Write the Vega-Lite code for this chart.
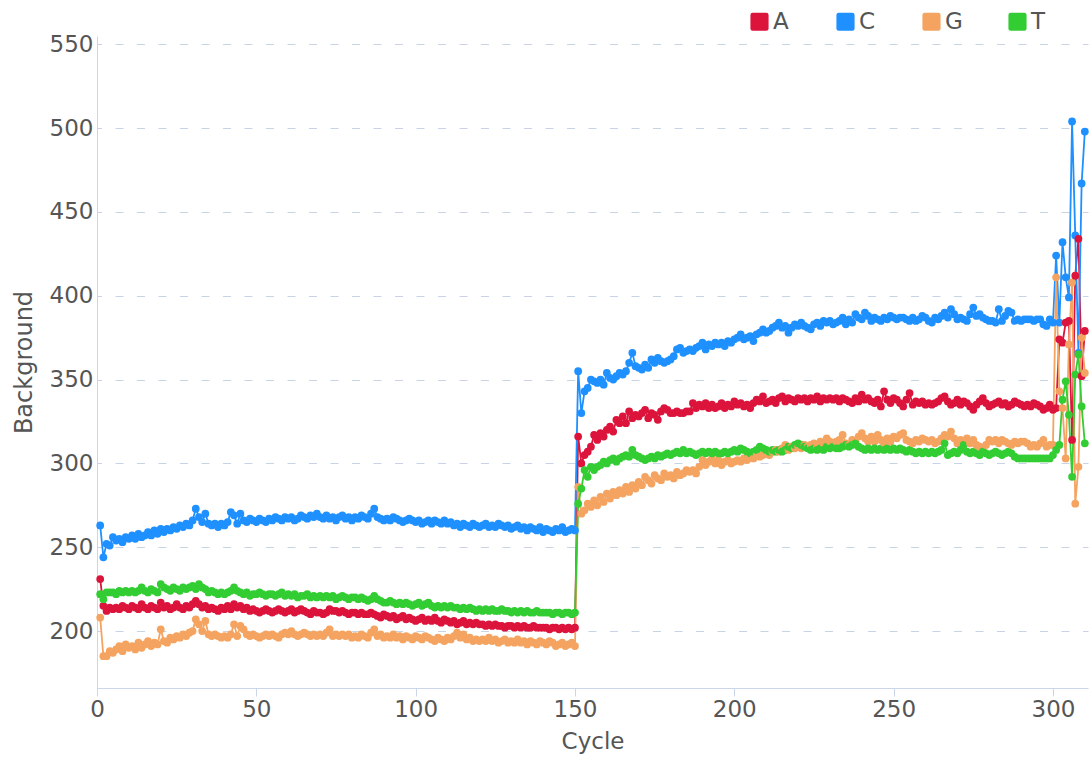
{
"$schema": "https://vega.github.io/schema/vega-lite/v6.json",
"width": 991, "height": 652,
"autosize": {"type": "none"},
"padding": {"left": 97, "top": 36, "right": 2, "bottom": 72},
"background": "white",
"config": {"view": {"stroke": null}, "font": "DejaVu Sans"},
"data": {"values": [
{"c":1,"A":231,"C":263,"G":208,"T":222},{"c":2,"A":215,"C":244,"G":185,"T":219},{"c":3,"A":212,"C":252,"G":185,"T":223},{"c":4,"A":214,"C":251,"G":188,"T":223},{"c":5,"A":213,"C":256,"G":187,"T":223},
{"c":6,"A":214,"C":254,"G":189,"T":222},{"c":7,"A":213,"C":255,"G":191,"T":224},{"c":8,"A":215,"C":253,"G":188,"T":223},{"c":9,"A":214,"C":256,"G":192,"T":224},{"c":10,"A":213,"C":255,"G":190,"T":223},
{"c":11,"A":215,"C":257,"G":191,"T":224},{"c":12,"A":214,"C":255,"G":189,"T":223},{"c":13,"A":213,"C":258,"G":193,"T":224},{"c":14,"A":216,"C":256,"G":190,"T":226},{"c":15,"A":214,"C":257,"G":192,"T":224},
{"c":16,"A":213,"C":259,"G":194,"T":223},{"c":17,"A":215,"C":257,"G":191,"T":225},{"c":18,"A":214,"C":260,"G":193,"T":224},{"c":19,"A":213,"C":258,"G":192,"T":223},{"c":20,"A":217,"C":261,"G":201,"T":228},
{"c":21,"A":214,"C":259,"G":194,"T":226},{"c":22,"A":215,"C":261,"G":193,"T":225},{"c":23,"A":213,"C":260,"G":196,"T":224},{"c":24,"A":214,"C":262,"G":195,"T":226},{"c":25,"A":216,"C":261,"G":197,"T":225},
{"c":26,"A":214,"C":263,"G":196,"T":224},{"c":27,"A":213,"C":262,"G":198,"T":226},{"c":28,"A":215,"C":264,"G":197,"T":225},{"c":29,"A":214,"C":263,"G":199,"T":226},{"c":30,"A":216,"C":266,"G":200,"T":227},
{"c":31,"A":218,"C":273,"G":207,"T":225},{"c":32,"A":216,"C":268,"G":204,"T":228},{"c":33,"A":214,"C":265,"G":200,"T":226},{"c":34,"A":215,"C":270,"G":206,"T":225},{"c":35,"A":213,"C":264,"G":198,"T":223},
{"c":36,"A":214,"C":263,"G":197,"T":224},{"c":37,"A":213,"C":264,"G":198,"T":223},{"c":38,"A":212,"C":262,"G":197,"T":222},{"c":39,"A":214,"C":264,"G":196,"T":223},{"c":40,"A":213,"C":263,"G":197,"T":222},
{"c":41,"A":215,"C":265,"G":196,"T":223},{"c":42,"A":213,"C":271,"G":198,"T":224},{"c":43,"A":216,"C":269,"G":204,"T":226},{"c":44,"A":214,"C":264,"G":197,"T":224},{"c":45,"A":215,"C":270,"G":203,"T":223},
{"c":46,"A":213,"C":266,"G":201,"T":222},{"c":47,"A":214,"C":265,"G":198,"T":223},{"c":48,"A":212,"C":267,"G":197,"T":221},{"c":49,"A":213,"C":266,"G":198,"T":222},{"c":50,"A":212,"C":265,"G":197,"T":222},
{"c":51,"A":211,"C":267,"G":196,"T":223},{"c":52,"A":212,"C":266,"G":197,"T":222},{"c":53,"A":213,"C":265,"G":198,"T":221},{"c":54,"A":212,"C":267,"G":197,"T":222},{"c":55,"A":211,"C":266,"G":198,"T":222},
{"c":56,"A":212,"C":268,"G":197,"T":221},{"c":57,"A":213,"C":267,"G":196,"T":222},{"c":58,"A":212,"C":266,"G":198,"T":223},{"c":59,"A":211,"C":268,"G":199,"T":221},{"c":60,"A":212,"C":267,"G":198,"T":222},
{"c":61,"A":213,"C":268,"G":200,"T":221},{"c":62,"A":211,"C":266,"G":198,"T":222},{"c":63,"A":212,"C":267,"G":197,"T":220},{"c":64,"A":213,"C":269,"G":198,"T":221},{"c":65,"A":212,"C":268,"G":199,"T":221},
{"c":66,"A":211,"C":267,"G":198,"T":222},{"c":67,"A":210,"C":269,"G":197,"T":220},{"c":68,"A":212,"C":268,"G":198,"T":221},{"c":69,"A":211,"C":270,"G":197,"T":220},{"c":70,"A":211,"C":268,"G":198,"T":221},
{"c":71,"A":210,"C":267,"G":197,"T":220},{"c":72,"A":211,"C":269,"G":199,"T":221},{"c":73,"A":213,"C":267,"G":201,"T":220},{"c":74,"A":212,"C":268,"G":197,"T":221},{"c":75,"A":212,"C":266,"G":198,"T":219},
{"c":76,"A":211,"C":268,"G":197,"T":220},{"c":77,"A":212,"C":269,"G":198,"T":221},{"c":78,"A":211,"C":267,"G":197,"T":220},{"c":79,"A":210,"C":268,"G":198,"T":219},{"c":80,"A":211,"C":266,"G":196,"T":220},
{"c":81,"A":211,"C":268,"G":197,"T":220},{"c":82,"A":210,"C":267,"G":196,"T":219},{"c":83,"A":211,"C":269,"G":198,"T":220},{"c":84,"A":210,"C":268,"G":197,"T":219},{"c":85,"A":210,"C":267,"G":196,"T":218},
{"c":86,"A":211,"C":270,"G":199,"T":219},{"c":87,"A":210,"C":273,"G":201,"T":221},{"c":88,"A":209,"C":268,"G":197,"T":219},{"c":89,"A":208,"C":267,"G":198,"T":218},{"c":90,"A":210,"C":266,"G":196,"T":217},
{"c":91,"A":209,"C":267,"G":197,"T":217},{"c":92,"A":208,"C":266,"G":196,"T":218},{"c":93,"A":209,"C":268,"G":198,"T":217},{"c":94,"A":207,"C":267,"G":196,"T":216},{"c":95,"A":208,"C":266,"G":197,"T":217},
{"c":96,"A":209,"C":265,"G":195,"T":216},{"c":97,"A":207,"C":266,"G":197,"T":217},{"c":98,"A":208,"C":267,"G":196,"T":216},{"c":99,"A":207,"C":266,"G":195,"T":215},{"c":100,"A":206,"C":265,"G":197,"T":216},
{"c":101,"A":207,"C":266,"G":196,"T":217},{"c":102,"A":208,"C":264,"G":195,"T":215},{"c":103,"A":206,"C":265,"G":197,"T":216},{"c":104,"A":207,"C":266,"G":196,"T":217},{"c":105,"A":206,"C":264,"G":195,"T":215},
{"c":106,"A":208,"C":266,"G":194,"T":214},{"c":107,"A":206,"C":265,"G":196,"T":215},{"c":108,"A":205,"C":264,"G":195,"T":214},{"c":109,"A":207,"C":266,"G":194,"T":215},{"c":110,"A":206,"C":264,"G":196,"T":214},
{"c":111,"A":205,"C":265,"G":195,"T":215},{"c":112,"A":206,"C":263,"G":197,"T":214},{"c":113,"A":204,"C":264,"G":199,"T":214},{"c":114,"A":205,"C":262,"G":196,"T":213},{"c":115,"A":206,"C":264,"G":198,"T":214},
{"c":116,"A":204,"C":263,"G":195,"T":213},{"c":117,"A":205,"C":262,"G":196,"T":214},{"c":118,"A":204,"C":264,"G":194,"T":213},{"c":119,"A":205,"C":263,"G":195,"T":212},{"c":120,"A":204,"C":262,"G":194,"T":213},
{"c":121,"A":204,"C":263,"G":195,"T":212},{"c":122,"A":203,"C":264,"G":194,"T":213},{"c":123,"A":204,"C":262,"G":196,"T":212},{"c":124,"A":203,"C":263,"G":194,"T":213},{"c":125,"A":204,"C":262,"G":195,"T":212},
{"c":126,"A":203,"C":264,"G":193,"T":212},{"c":127,"A":203,"C":263,"G":194,"T":213},{"c":128,"A":202,"C":262,"G":195,"T":212},{"c":129,"A":203,"C":263,"G":193,"T":212},{"c":130,"A":203,"C":261,"G":194,"T":211},
{"c":131,"A":202,"C":262,"G":193,"T":212},{"c":132,"A":203,"C":263,"G":195,"T":211},{"c":133,"A":202,"C":261,"G":193,"T":212},{"c":134,"A":203,"C":262,"G":194,"T":211},{"c":135,"A":202,"C":260,"G":192,"T":212},
{"c":136,"A":202,"C":262,"G":194,"T":211},{"c":137,"A":203,"C":261,"G":193,"T":211},{"c":138,"A":202,"C":260,"G":192,"T":212},{"c":139,"A":202,"C":262,"G":194,"T":211},{"c":140,"A":202,"C":259,"G":193,"T":211},
{"c":141,"A":202,"C":261,"G":192,"T":211},{"c":142,"A":201,"C":260,"G":194,"T":211},{"c":143,"A":202,"C":259,"G":193,"T":210},{"c":144,"A":202,"C":261,"G":191,"T":211},{"c":145,"A":201,"C":260,"G":192,"T":211},
{"c":146,"A":202,"C":262,"G":193,"T":210},{"c":147,"A":201,"C":259,"G":191,"T":211},{"c":148,"A":202,"C":260,"G":192,"T":211},{"c":149,"A":201,"C":261,"G":193,"T":210},{"c":150,"A":202,"C":260,"G":191,"T":211},
{"c":151,"A":316,"C":355,"G":286,"T":276},{"c":152,"A":300,"C":330,"G":270,"T":285},{"c":153,"A":305,"C":343,"G":272,"T":296},{"c":154,"A":307,"C":345,"G":276,"T":292},{"c":155,"A":310,"C":350,"G":274,"T":298},
{"c":156,"A":317,"C":349,"G":278,"T":296},{"c":157,"A":314,"C":348,"G":275,"T":298},{"c":158,"A":318,"C":350,"G":280,"T":299},{"c":159,"A":316,"C":347,"G":277,"T":301},{"c":160,"A":320,"C":354,"G":282,"T":300},
{"c":161,"A":322,"C":351,"G":279,"T":302},{"c":162,"A":319,"C":350,"G":283,"T":303},{"c":163,"A":326,"C":352,"G":281,"T":301},{"c":164,"A":324,"C":354,"G":284,"T":303},{"c":165,"A":328,"C":353,"G":282,"T":304},
{"c":166,"A":324,"C":355,"G":286,"T":305},{"c":167,"A":331,"C":360,"G":283,"T":304},{"c":168,"A":327,"C":366,"G":287,"T":308},{"c":169,"A":329,"C":358,"G":285,"T":305},{"c":170,"A":328,"C":357,"G":289,"T":304},
{"c":171,"A":330,"C":356,"G":287,"T":303},{"c":172,"A":332,"C":359,"G":292,"T":302},{"c":173,"A":327,"C":357,"G":290,"T":303},{"c":174,"A":330,"C":362,"G":288,"T":304},{"c":175,"A":329,"C":360,"G":293,"T":303},
{"c":176,"A":326,"C":363,"G":291,"T":305},{"c":177,"A":331,"C":361,"G":290,"T":304},{"c":178,"A":333,"C":360,"G":294,"T":305},{"c":179,"A":332,"C":361,"G":292,"T":306},{"c":180,"A":330,"C":362,"G":293,"T":305},
{"c":181,"A":330,"C":364,"G":291,"T":306},{"c":182,"A":331,"C":368,"G":295,"T":307},{"c":183,"A":330,"C":369,"G":293,"T":306},{"c":184,"A":330,"C":366,"G":294,"T":308},{"c":185,"A":331,"C":367,"G":296,"T":306},
{"c":186,"A":331,"C":368,"G":295,"T":307},{"c":187,"A":336,"C":367,"G":296,"T":306},{"c":188,"A":333,"C":369,"G":294,"T":305},{"c":189,"A":335,"C":370,"G":298,"T":306},{"c":190,"A":334,"C":372,"G":302,"T":307},
{"c":191,"A":336,"C":368,"G":299,"T":306},{"c":192,"A":333,"C":371,"G":301,"T":307},{"c":193,"A":335,"C":370,"G":303,"T":306},{"c":194,"A":333,"C":372,"G":300,"T":307},{"c":195,"A":334,"C":371,"G":302,"T":306},
{"c":196,"A":336,"C":372,"G":299,"T":306},{"c":197,"A":333,"C":370,"G":301,"T":307},{"c":198,"A":335,"C":373,"G":302,"T":306},{"c":199,"A":334,"C":372,"G":300,"T":307},{"c":200,"A":337,"C":374,"G":301,"T":308},
{"c":201,"A":335,"C":375,"G":302,"T":307},{"c":202,"A":336,"C":377,"G":301,"T":309},{"c":203,"A":334,"C":374,"G":303,"T":308},{"c":204,"A":335,"C":375,"G":302,"T":307},{"c":205,"A":333,"C":376,"G":304,"T":306},
{"c":206,"A":336,"C":373,"G":303,"T":307},{"c":207,"A":338,"C":377,"G":305,"T":308},{"c":208,"A":337,"C":378,"G":304,"T":310},{"c":209,"A":340,"C":380,"G":305,"T":309},{"c":210,"A":336,"C":378,"G":306,"T":308},
{"c":211,"A":337,"C":379,"G":305,"T":307},{"c":212,"A":338,"C":381,"G":307,"T":308},{"c":213,"A":336,"C":382,"G":308,"T":307},{"c":214,"A":339,"C":384,"G":307,"T":308},{"c":215,"A":340,"C":381,"G":309,"T":307},
{"c":216,"A":337,"C":382,"G":311,"T":308},{"c":217,"A":339,"C":378,"G":308,"T":310},{"c":218,"A":338,"C":381,"G":310,"T":309},{"c":219,"A":337,"C":383,"G":309,"T":311},{"c":220,"A":339,"C":382,"G":310,"T":312},
{"c":221,"A":338,"C":384,"G":309,"T":311},{"c":222,"A":339,"C":382,"G":311,"T":310},{"c":223,"A":337,"C":381,"G":310,"T":309},{"c":224,"A":339,"C":380,"G":311,"T":308},{"c":225,"A":338,"C":383,"G":312,"T":309},
{"c":226,"A":340,"C":384,"G":310,"T":308},{"c":227,"A":337,"C":382,"G":313,"T":309},{"c":228,"A":339,"C":385,"G":312,"T":308},{"c":229,"A":338,"C":384,"G":315,"T":310},{"c":230,"A":339,"C":385,"G":313,"T":309},
{"c":231,"A":338,"C":383,"G":312,"T":310},{"c":232,"A":339,"C":384,"G":313,"T":309},{"c":233,"A":337,"C":385,"G":314,"T":309},{"c":234,"A":339,"C":387,"G":317,"T":310},{"c":235,"A":338,"C":383,"G":312,"T":311},
{"c":236,"A":337,"C":386,"G":311,"T":310},{"c":237,"A":336,"C":384,"G":314,"T":311},{"c":238,"A":339,"C":389,"G":313,"T":312},{"c":239,"A":337,"C":387,"G":316,"T":310},{"c":240,"A":341,"C":386,"G":318,"T":309},
{"c":241,"A":338,"C":390,"G":315,"T":308},{"c":242,"A":339,"C":388,"G":313,"T":309},{"c":243,"A":337,"C":385,"G":316,"T":308},{"c":244,"A":336,"C":387,"G":313,"T":309},{"c":245,"A":338,"C":386,"G":317,"T":308},
{"c":246,"A":334,"C":385,"G":314,"T":309},{"c":247,"A":343,"C":387,"G":312,"T":308},{"c":248,"A":338,"C":386,"G":315,"T":309},{"c":249,"A":336,"C":388,"G":313,"T":308},{"c":250,"A":339,"C":387,"G":316,"T":309},
{"c":251,"A":338,"C":386,"G":315,"T":308},{"c":252,"A":336,"C":387,"G":317,"T":309},{"c":253,"A":334,"C":387,"G":318,"T":308},{"c":254,"A":338,"C":386,"G":314,"T":307},{"c":255,"A":342,"C":385,"G":313,"T":308},
{"c":256,"A":335,"C":387,"G":312,"T":307},{"c":257,"A":337,"C":385,"G":314,"T":306},{"c":258,"A":336,"C":386,"G":313,"T":307},{"c":259,"A":337,"C":388,"G":315,"T":306},{"c":260,"A":335,"C":387,"G":314,"T":307},
{"c":261,"A":336,"C":385,"G":313,"T":306},{"c":262,"A":335,"C":384,"G":314,"T":307},{"c":263,"A":336,"C":387,"G":312,"T":306},{"c":264,"A":337,"C":386,"G":313,"T":307},{"c":265,"A":339,"C":388,"G":315,"T":308},
{"c":266,"A":340,"C":390,"G":317,"T":312},{"c":267,"A":337,"C":387,"G":316,"T":305},{"c":268,"A":335,"C":392,"G":319,"T":306},{"c":269,"A":336,"C":389,"G":315,"T":307},{"c":270,"A":338,"C":386,"G":312,"T":306},
{"c":271,"A":335,"C":387,"G":314,"T":308},{"c":272,"A":337,"C":386,"G":313,"T":311},{"c":273,"A":336,"C":385,"G":315,"T":307},{"c":274,"A":334,"C":389,"G":312,"T":306},{"c":275,"A":332,"C":393,"G":314,"T":307},
{"c":276,"A":335,"C":388,"G":311,"T":306},{"c":277,"A":337,"C":389,"G":310,"T":305},{"c":278,"A":339,"C":387,"G":308,"T":307},{"c":279,"A":336,"C":386,"G":311,"T":306},{"c":280,"A":334,"C":385,"G":314,"T":305},
{"c":281,"A":335,"C":385,"G":313,"T":306},{"c":282,"A":336,"C":384,"G":314,"T":307},{"c":283,"A":337,"C":392,"G":312,"T":306},{"c":284,"A":335,"C":385,"G":314,"T":305},{"c":285,"A":336,"C":388,"G":313,"T":306},
{"c":286,"A":334,"C":391,"G":312,"T":307},{"c":287,"A":335,"C":390,"G":311,"T":306},{"c":288,"A":337,"C":385,"G":313,"T":304},{"c":289,"A":336,"C":386,"G":312,"T":303},{"c":290,"A":335,"C":385,"G":313,"T":303},
{"c":291,"A":334,"C":386,"G":313,"T":303},{"c":292,"A":335,"C":386,"G":312,"T":303},{"c":293,"A":334,"C":386,"G":310,"T":303},{"c":294,"A":336,"C":385,"G":311,"T":303},{"c":295,"A":335,"C":386,"G":310,"T":303},
{"c":296,"A":334,"C":386,"G":312,"T":303},{"c":297,"A":332,"C":383,"G":314,"T":303},{"c":298,"A":333,"C":382,"G":310,"T":303},{"c":299,"A":335,"C":386,"G":311,"T":303},{"c":300,"A":332,"C":384,"G":311,"T":305},
{"c":301,"A":333,"C":424,"G":411,"T":308},{"c":302,"A":374,"C":384,"G":343,"T":311},{"c":303,"A":372,"C":432,"G":333,"T":338},{"c":304,"A":384,"C":411,"G":303,"T":349},{"c":305,"A":385,"C":399,"G":371,"T":329},
{"c":306,"A":314,"C":504,"G":408,"T":292},{"c":307,"A":412,"C":436,"G":276,"T":353},{"c":308,"A":434,"C":366,"G":298,"T":365},{"c":309,"A":352,"C":467,"G":375,"T":334},{"c":310,"A":379,"C":498,"G":354,"T":312}
]},
"transform": [{"fold": ["A", "C", "G", "T"], "as": ["base", "value"]}],
"encoding": {
  "x": {"field": "c", "type": "quantitative",
        "scale": {"domain": [0, 311], "nice": false, "zero": false},
        "axis": {"title": "Cycle", "values": [0, 50, 100, 150, 200, 250, 300], "grid": false, "labelFlush": false,
                 "domainColor": "#ccd6eb", "tickColor": "#ccd6eb", "tickSize": 8,
                 "labelFontSize": 23, "labelColor": "#555555", "labelPadding": 2,
                 "titleFontSize": 23, "titleColor": "#555555", "titleFontWeight": "normal", "titlePadding": 9}},
  "y": {"field": "value", "type": "quantitative",
        "scale": {"domain": [166, 555], "nice": false, "zero": false},
        "axis": {"title": "Background", "values": [200, 250, 300, 350, 400, 450, 500, 550],
                 "grid": true, "gridColor": "#c8d4e6", "gridDash": [8, 13.5], "gridDashOffset": 3.5,
                 "domainColor": "#ccd6eb", "ticks": false, "labelPadding": 4,
                 "labelFontSize": 23, "labelColor": "#555555",
                 "titleFontSize": 24, "titleColor": "#555555", "titleFontWeight": "normal", "titlePadding": 13}},
  "color": {"field": "base", "type": "nominal",
     "scale": {"domain": ["A", "C", "G", "T"], "range": ["#DC143C", "#1E90FF", "#F4A460", "#32CD32"]},
     "legend": {"title": null, "orient": "none", "legendX": 651, "legendY": -26, "direction": "horizontal",
       "symbolType": "M-0.75,-1H0.75Q1,-1,1,-0.75V0.75Q1,1,0.75,1H-0.75Q-1,1,-1,0.75V-0.75Q-1,-1,-0.75,-1Z",
       "symbolSize": 330, "symbolStrokeWidth": 0, "symbolOpacity": 1,
       "labelFontSize": 23, "labelColor": "#555555", "labelOffset": 2,
       "columnPadding": 43, "gridAlign": "all",
       "encode": {"symbols": {"update": {"fill": {"scale": "color", "field": "value"}, "strokeWidth": {"value": 0}}}}}}
},
"layer": [
  {"mark": {"type": "line", "strokeWidth": 1.8}},
  {"mark": {"type": "point", "filled": true, "size": 60, "opacity": 1}}
]
}
